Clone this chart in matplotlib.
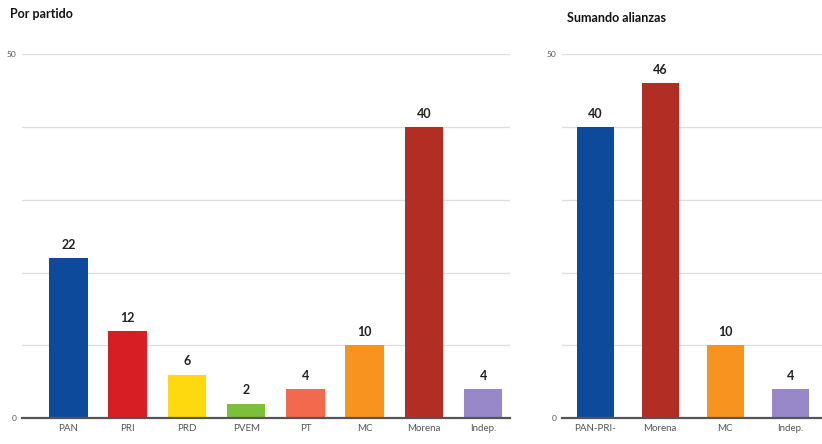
import matplotlib
matplotlib.use("Agg")
import matplotlib.pyplot as plt

plt.rcParams['font.family'] = ['Lato', 'DejaVu Sans']

partidos = ["PAN", "PRI", "PRD", "PVEM", "PT", "MC", "Morena", "Indep."]
escanos = [22, 12, 6, 2, 4, 10, 40, 4]
colores = ["#0d4a9b", "#d81e25", "#ffd90f", "#7bbf3a", "#f2694e", "#f7931e", "#b22e24", "#9888c9"]

alianzas = ["PAN-PRI-", "Morena", "MC", "Indep."]
escanos_alianza = [40, 46, 10, 4]
colores_alianza = ["#0d4a9b", "#b22e24", "#f7931e", "#9888c9"]

ticks_y = [0, 10, 20, 30, 40, 50]
tick_labels = ["0", "", "", "", "", "50"]


def dibujar(ax, cats, vals, cols, ancho, xlim, titulo, tx, ty):
  ax.bar(range(len(cats)), vals, color=cols, width=ancho, zorder=3)
  for i, v in enumerate(vals):
    ax.text(i, v + 1.0, str(v), ha="center", va="bottom", fontsize=9,
            fontweight="bold", color="#222222", zorder=4)
  ax.set_ylim(0, 50)
  ax.set_xlim(*xlim)
  ax.set_yticks(ticks_y)
  ax.set_yticklabels(tick_labels, fontsize=6, color="#555555")
  ax.set_xticks(range(len(cats)))
  ax.set_xticklabels(cats, fontsize=7, color="#555555")
  ax.tick_params(length=0, pad=4)
  ax.grid(axis="y", color="#dddddd", linewidth=0.9, zorder=0)
  for s in ["top", "right", "left"]:
    ax.spines[s].set_visible(False)
  ax.spines["bottom"].set_color("#555555")
  ax.spines["bottom"].set_linewidth(1.6)
  ax.spines["bottom"].set_zorder(5)
  ax.text(tx, ty, titulo, transform=ax.transAxes, fontsize=9,
          fontweight="bold", color="#111111", ha="left", va="center")


fig = plt.figure(figsize=(8.22, 4.44), dpi=100)

ax1 = fig.add_axes([0.027, 0.058, 0.594, 0.82])
dibujar(ax1, partidos, escanos, colores, 0.65, (-0.78, 7.46), "Por partido", -0.025, 1.11)

ax2 = fig.add_axes([0.684, 0.058, 0.316, 0.82])
dibujar(ax2, alianzas, escanos_alianza, colores_alianza, 0.57, (-0.51, 3.49), "Sumando alianzas", 0.02, 1.10)

fig.savefig("out.png", dpi=100)
